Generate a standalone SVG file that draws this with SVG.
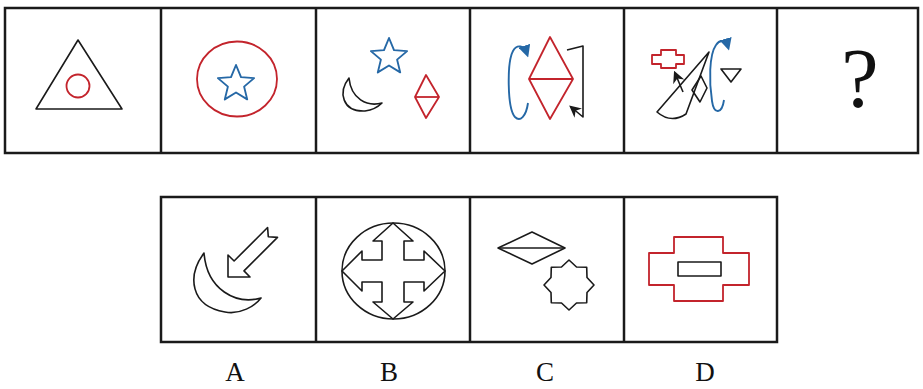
<svg xmlns="http://www.w3.org/2000/svg" width="923" height="389" viewBox="0 0 923 389">
<defs>
<style>
.frame{fill:none;stroke:#1a1a1a;stroke-width:2.5}
.k{fill:none;stroke:#1a1a1a;stroke-width:1.6;stroke-linejoin:round}
.r{fill:none;stroke:#c3242c;stroke-width:1.8;stroke-linejoin:round}
.b{fill:none;stroke:#2568a6;stroke-width:1.9;stroke-linejoin:round}
.lbl{font-family:"Liberation Serif","Times New Roman",serif;font-size:27px;fill:#111;text-anchor:middle}
</style>
<marker id="ab" viewBox="0 0 10 10" refX="7" refY="5" markerWidth="6.5" markerHeight="6.5" orient="auto" markerUnits="strokeWidth">
<path d="M0,0 L10,5 L0,10 Z" fill="#2568a6"/>
</marker>
<marker id="ak" viewBox="0 0 10 10" refX="8" refY="5" markerWidth="7.5" markerHeight="7.5" orient="auto" markerUnits="strokeWidth">
<path d="M0,0 L10,5 L0,10 L3,5 Z" fill="#1a1a1a"/>
</marker>
</defs>
<rect width="923" height="389" fill="#ffffff"/>

<g id="top-row-frame">
<rect class="frame" x="5" y="8" width="913" height="145"/>
<line class="frame" x1="161" y1="8" x2="161" y2="153"/>
<line class="frame" x1="316" y1="8" x2="316" y2="153"/>
<line class="frame" x1="470" y1="8" x2="470" y2="153"/>
<line class="frame" x1="624" y1="8" x2="624" y2="153"/>
<line class="frame" x1="777" y1="8" x2="777" y2="153"/>
</g>

<g id="panel-1">
<polygon class="k" points="78,40 122,109 36,109"/>
<circle class="r" cx="78" cy="86" r="11.5"/>
</g>

<g id="panel-2">
<ellipse class="r" cx="237" cy="79" rx="40" ry="37.5"/>
<polygon class="b" points="236,65 241,77.1 254.1,78.1 244.1,86.6 247.2,99.4 236,92.5 224.8,99.4 227.9,86.6 217.9,78.1 231,77.1"/>
</g>

<g id="panel-3">
<polygon class="b" points="389,38 394,50.1 407.1,51.1 397.1,59.6 400.2,72.4 389,65.5 377.8,72.4 380.9,59.6 370.9,51.1 384,50.1"/>
<path class="k" d="M349,78 C338,92 342,112 365,111 C372,110 378,107 382,103 C367,107 351,99 349,78 Z"/>
<polygon class="r" points="426,75 439,97 426,118 415,97"/>
<line class="r" x1="415" y1="97" x2="439" y2="97"/>
</g>

<g id="panel-4">
<polygon class="r" points="550,37 573,79 550,119 529,79"/>
<line class="r" x1="529" y1="79" x2="573" y2="79"/>
<path class="b" d="M528,103 C526,117 520,122 515,117 C507,108 507,62 513,51 C517,44 524,45 527,54" marker-end="url(#ab)"/>
<path class="k" d="M567,50 L583,46 L583,117 L571,107" marker-end="url(#ak)"/>
</g>

<g id="panel-5">
<path class="r" d="M661,50 H676 V55 H684 V64 H676 V68 H661 V64 H652 V55 H661 Z"/>
<path class="k" d="M709,52 L657,112 Q671,124 686,114 Z"/>
<line class="k" x1="683" y1="92" x2="675" y2="73" marker-end="url(#ak)"/>
<polygon class="k" points="701,76 707,88 700,102 692,90"/>
<polygon class="k" points="721,69 741,69 731,82"/>
<path class="b" d="M724,100 C722,114 714,115 712,101 C709,82 709,55 716,45 C720,39 726,40 728,47" marker-end="url(#ab)"/>
</g>

<g id="panel-6">
<text x="860" y="107" font-family="'Liberation Serif','Times New Roman',serif" font-size="84" text-anchor="middle" fill="#111">?</text>
</g>

<g id="bottom-row-frame">
<rect class="frame" x="161" y="197" width="616" height="145"/>
<line class="frame" x1="316" y1="197" x2="316" y2="342"/>
<line class="frame" x1="470" y1="197" x2="470" y2="342"/>
<line class="frame" x1="624" y1="197" x2="624" y2="342"/>
</g>

<g id="option-A">
<path class="k" d="M204,253 C187,276 190,306 225,312 C240,315 255,306 261,298 C236,305 207,290 204,253 Z"/>
<polygon class="k" points="228,277 228,255 234.1,261 267.6,227.5 268.3,236.7 277.5,237.4 244,270.9 250,277"/>
<text class="lbl" x="235" y="381">A</text>
</g>

<g id="option-B">
<ellipse class="k" cx="393.5" cy="271" rx="51.5" ry="48"/>
<polygon class="k" points="393,223 413,241 404,241 404,260 424,260 424,251 445,271 424,291 424,282 404,282 404,302 413,302 393,319 373,302 382,302 382,282 362,282 362,291 342,271 362,251 362,260 382,260 382,241 373,241"/>
<text class="lbl" x="389" y="381">B</text>
</g>

<g id="option-C">
<polygon class="k" points="498,248 532,232 565,248 532,264"/>
<line class="k" x1="498" y1="248" x2="565" y2="248"/>
<polygon class="k" points="569,260 576.5,267 586.7,267.3 587,277.5 594,285 587,292.5 586.7,302.7 576.5,303 569,310 561.5,303 551.3,302.7 551,292.5 544,285 551,277.5 551.3,267.3 561.5,267"/>
<text class="lbl" x="545" y="381">C</text>
</g>

<g id="option-D">
<path class="r" d="M674,237 H723 V253 H749 V285 H723 V301 H674 V285 H649 V253 H674 Z"/>
<rect class="k" x="678" y="262" width="43" height="14" stroke="#333"/>
<text class="lbl" x="705" y="381">D</text>
</g>
</svg>
